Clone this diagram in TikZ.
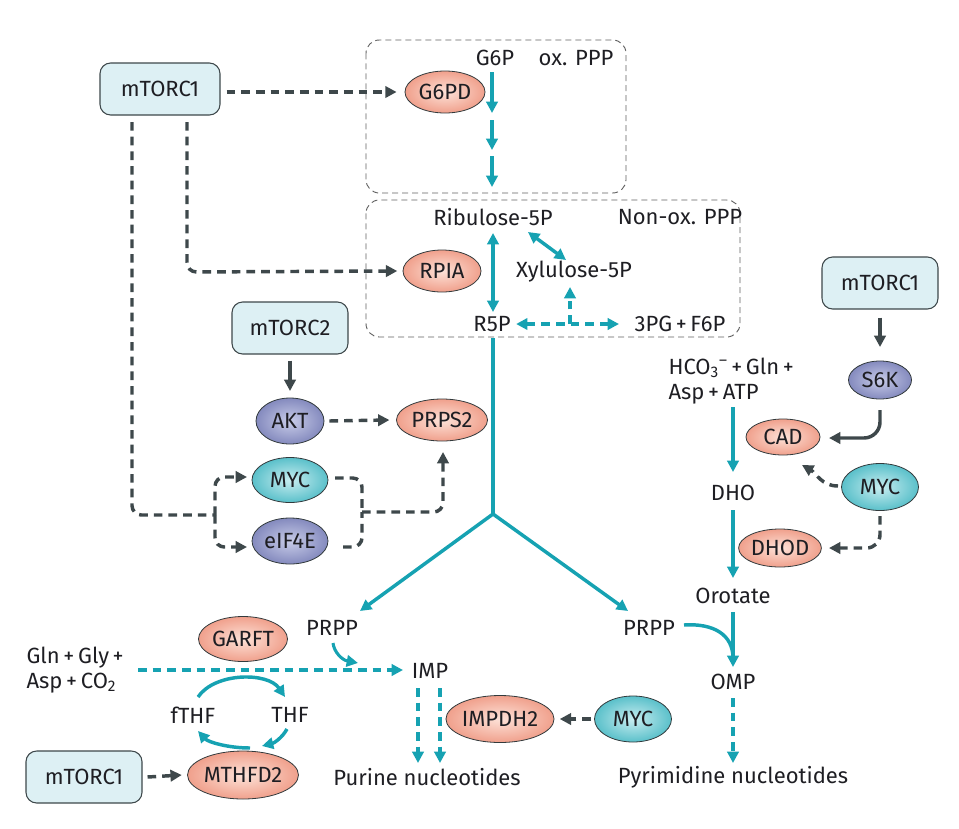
\documentclass[tikz,border=0pt]{standalone}
\usepackage{fontspec}
\setmainfont{Fira Sans}
\usetikzlibrary{arrows.meta,shapes.geometric}
\newlength{\pxu}\setlength{\pxu}{0.75pt}
\definecolor{teal1}{RGB}{22,162,178}
\definecolor{dgray}{RGB}{62,72,75}
\definecolor{boxfill}{RGB}{221,240,244}
\definecolor{txt}{RGB}{30,30,35}
\definecolor{salO}{RGB}{240,160,140}
\definecolor{salI}{RGB}{253,226,216}
\definecolor{purO}{RGB}{132,138,190}
\definecolor{purI}{RGB}{200,204,232}
\definecolor{tqO}{RGB}{90,192,202}
\definecolor{tqI}{RGB}{200,237,240}
\tikzset{
  every node/.style={font=\fontsize{16.5pt}{19pt}\selectfont, text=txt},
  regbox/.style={draw=dgray, line width=0.8pt, fill=boxfill, rounded corners=8pt, minimum width=116\pxu, minimum height=52\pxu, inner sep=0pt},
  enz/.style={ellipse, draw=dgray!80!black, line width=0.6pt, inner sep=0pt},
  sal/.style={enz, inner color=salI, outer color=salO},
  pur/.style={enz, inner color=purI, outer color=purO},
  tq/.style={enz, inner color=tqI, outer color=tqO},
  met/.style={inner sep=1pt},
  pbox/.style={draw=black!62, line width=0.7pt, dash pattern=on 4.5pt off 3pt, rounded corners=10pt},
  dline/.style={draw=dgray, line width=2.6pt, dash pattern=on 6.5pt off 4.5pt},
  reg/.style={dline, -{Triangle[length=8.5pt,width=8.5pt]}},
  regs/.style={draw=dgray, line width=2.6pt, -{Triangle[length=8.5pt,width=8.5pt]}},
  flow/.style={draw=teal1, line width=2.6pt, -{Triangle[length=8.5pt,width=8.5pt]}},
  flowd/.style={draw=teal1, line width=2.9pt, dash pattern=on 6.5pt off 4.5pt, -{Triangle[length=8.5pt,width=8.5pt]}},
  flowdd/.style={draw=teal1, line width=2.9pt, dash pattern=on 6.5pt off 4.5pt, {Triangle[length=8.5pt,width=8.5pt]}-{Triangle[length=8.5pt,width=8.5pt]}},
  flowb/.style={draw=teal1, line width=2.6pt, {Triangle[length=8.5pt,width=8.5pt]}-{Triangle[length=8.5pt,width=8.5pt]}},
}
\begin{document}
\begin{tikzpicture}[x=0.75pt,y=-0.75pt]
\useasboundingbox (0,0) rectangle (959,828);

% dashed pathway boxes
\draw[pbox] (366,40) rectangle (626,193);
\draw[pbox] (366,200) rectangle (740,337);

% boxes
\node[regbox, minimum width=120\pxu] (m1a) at (160,89) {mTORC1};
\node[regbox] (m2) at (290,328) {mTORC2};
\node[regbox] (m1b) at (880,283) {mTORC1};
\node[regbox] (m1c) at (84,777) {mTORC1};

% enzymes
\node[sal, minimum width=80\pxu, minimum height=42\pxu] (g6pd) at (445,92) {G6PD};
\node[sal, minimum width=78\pxu, minimum height=42\pxu] (rpia) at (442,271) {RPIA};
\node[pur, minimum width=68\pxu, minimum height=46\pxu] (akt) at (290,421) {AKT};
\node[sal, minimum width=91\pxu, minimum height=42\pxu] (prps2) at (442,420) {PRPS2};
\node[tq, minimum width=76\pxu, minimum height=45\pxu] (myc1) at (290,480) {MYC};
\node[pur, minimum width=76\pxu, minimum height=46\pxu] (eif) at (290,541) {eIF4E};
\node[pur, minimum width=63\pxu, minimum height=38\pxu] (s6k) at (880,380) {S6K};
\node[sal, minimum width=74\pxu, minimum height=36\pxu] (cad) at (783,437) {CAD};
\node[tq, minimum width=77\pxu, minimum height=47\pxu] (myc2) at (880,487) {MYC};
\node[sal, minimum width=72\pxu, minimum height=38\pxu] (dhod) at (780,548) {DHOD};
\node[sal, minimum width=89\pxu, minimum height=45\pxu] (garft) at (243,639) {GARFT};
\node[sal, minimum width=105\pxu, minimum height=48\pxu] (mthfd2) at (243,775) {MTHFD2};
\node[sal, minimum width=104\pxu, minimum height=47\pxu] (impdh2) at (500,719) {IMPDH2};
\node[tq, minimum width=77\pxu, minimum height=46\pxu] (myc3) at (633,719) {MYC};

% metabolites and labels
\node[met] (g6p) at (495,58) {G6P};
\node[met] (oxppp) at (576,58) {ox. PPP};
\node[met] (ribu) at (493,217) {Ribulose-5P};
\node[met] (nonox) at (680,217) {Non-ox. PPP};
\node[met] (xylu) at (574,272) {Xylulose-5P};
\node[met] (r5p) at (492,324) {R5P};
\node[met] (pgf) at (680,324) {3PG\,+\,F6P};
\node[met, anchor=west, align=left, font=\fontsize{16.5pt}{19pt}\selectfont] (hco) at (667,381) {HCO\textsubscript{3}\textsuperscript{–}\,+\,Gln\,+\\Asp\,+\,ATP};
\node[met] (dho) at (733,493) {DHO};
\node[met] (oro) at (733,596) {Orotate};
\node[met] (prppr) at (649,628) {PRPP};
\node[met] (omp) at (733,682) {OMP};
\node[met] (pyr) at (733,777) {Pyrimidine nucleotides};
\node[met] (prppl) at (332,628) {PRPP};
\node[met, anchor=west, align=left, font=\fontsize{16.5pt}{18.5pt}\selectfont] (gln) at (25,670) {Gln\,+\,Gly\,+\\Asp\,+\,CO\textsubscript{2}};
\node[met] (imp) at (430,671) {IMP};
\node[met] (fthf) at (193,715) {fTHF};
\node[met] (thf) at (290,715) {THF};
\node[met] (pur) at (427,777) {Purine nucleotides};

% coordinates
\coordinate (br) at (493,514);
\coordinate (ox1) at (492,120);
\coordinate (ox2) at (492,150);
\coordinate (ox3) at (492,156);
\coordinate (ox4) at (492,187);
\coordinate (xj) at (570,324);

% oxidative PPP flow
\draw[flow] (492,72) -- (492,113);
\draw[flow] (ox1) -- (ox2);
\draw[flow] (ox3) -- (ox4);

% non-oxidative PPP
\draw[flowb] (493,233) -- (493,312);
\draw[flowb] (528,232) -- (566,260);
\draw[flowdd] (r5p.east) ++(4,0) -- (619,324);
\draw[flowd] (xj) -- (570,287);

% R5P to PRPP
\draw[draw=teal1, line width=2.6pt] (493,338) -- (br);
\draw[flow] (br) -- (360,611);
\draw[flow] (br) -- (628,611);

% mTORC1 regulation (top left)
\draw[reg] (m1a.east |- g6pd) ++(6,0) -- ([xshift=-6pt]g6pd.west);
\draw[dline, rounded corners=7pt] (132,122) -- (132,515) -- (215,515);
\draw[reg, rounded corners=7pt] (215,515) -- (215,477) -- (247,477);
\draw[reg, rounded corners=7pt] (215,515) -- (215,547) -- (247,547);
\draw[reg, rounded corners=7pt] (187,122) -- (187,272) -- ([xshift=-4pt]rpia.west);

% mTORC2 / AKT / PRPS2
\draw[regs] (m2.south) ++(0,6) -- (290,391);
\draw[reg] (akt.east) ++(5,0) -- ([xshift=-5pt]prps2.west);
\draw[dline, rounded corners=7pt] (335,478) -- (362,478) -- (362,512);
\draw[dline, rounded corners=7pt] (343,547) -- (362,547) -- (362,512);
\draw[reg, rounded corners=7pt] (362,512) -- (443,512) -- (443,452);

% right side regulation
\draw[regs] (m1b.south) ++(0,8) -- (880,347);
\draw[regs, rounded corners=12pt] (880,410) -- (880,438) -- (829,438);
\draw[reg] (838,486) to[out=180,in=-30] (802,465);
\draw[reg, rounded corners=10pt] (880,516) -- (880,548) -- (829,548);

% pyrimidine flow
\draw[flow] (733,407) -- (733,472);
\draw[flow] (733,510) -- (733,578);
\draw[flow] (733,612) -- (733,667);
\draw[draw=teal1, line width=2.6pt] (684,625) .. controls (714,623) and (733,635) .. (733,658);
\draw[flowd] (733,698) -- (733,763);

% purine flow
\draw[flowd] (138,670) -- (403,670);
\draw[flow, line width=2.3pt] (333,643) .. controls (334,652) and (342,660) .. (358,663);
\draw[flowd] (418,688) -- (418,763);
\draw[flowd] (440,688) -- (440,763);
\draw[reg] (myc3.west) ++(-3,0) -- ([xshift=4pt]impdh2.east);

% folate cycle
\draw[flow] (198,697) .. controls (215,672) and (268,672) .. (285,697);
\draw[flow] (287,729) .. controls (282,738) and (274,743) .. (262,746);
\draw[flow] (250,748) .. controls (228,748) and (208,742) .. (198,731);
\draw[reg] (m1c.east) ++(5,0) -- ([xshift=-4pt]mthfd2.west);
\end{tikzpicture}
\end{document}
